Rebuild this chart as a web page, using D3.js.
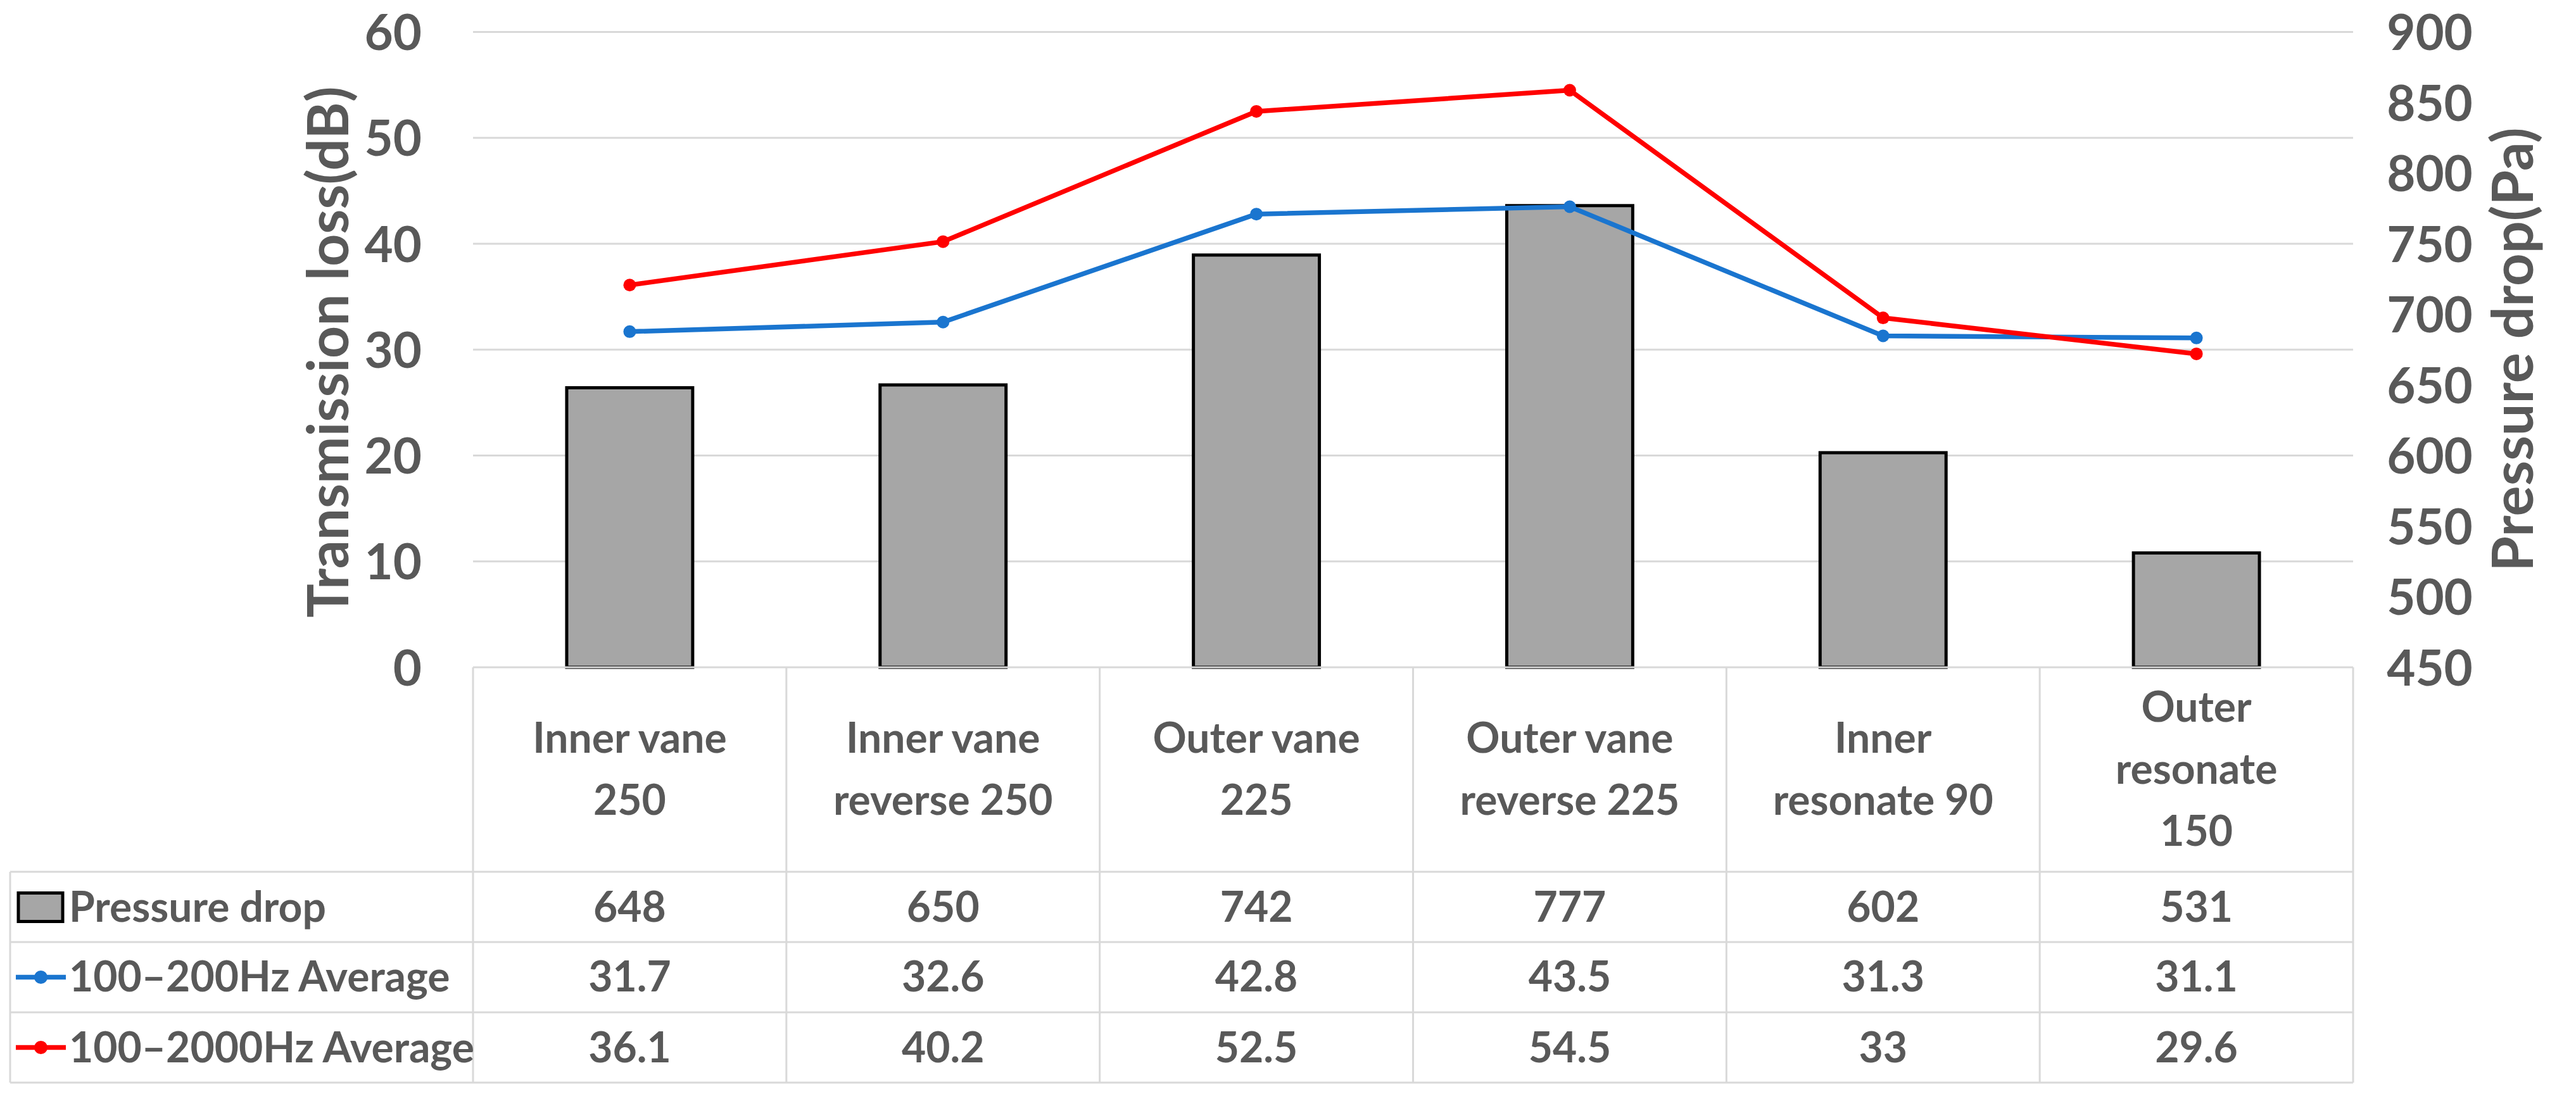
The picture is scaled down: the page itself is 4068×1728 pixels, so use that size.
<!DOCTYPE html>
<html>
<head>
<meta charset="utf-8">
<script src="https://cdn.jsdelivr.net/npm/d3@7"></script>
<style>
  html, body { margin: 0; padding: 0; background: #fff; }
  svg text { font-family: Lato, "Open Sans", sans-serif; font-weight: 700; fill: #595959; }
</style>
</head>
<body>
<svg id="chart" width="4068" height="1728"></svg>
<script>
// ---- data ----
const categories = ["Inner vane 250", "Inner vane reverse 250", "Outer vane 225", "Outer vane reverse 225", "Inner resonate 90", "Outer resonate 150"];
const categoryLines = [["Inner vane", "250"], ["Inner vane", "reverse 250"], ["Outer vane", "225"], ["Outer vane", "reverse 225"], ["Inner", "resonate 90"], ["Outer", "resonate", "150"]];
const pressureDrop = [648, 650, 742, 777, 602, 531];
const avg100_200 = [31.7, 32.6, 42.8, 43.5, 31.3, 31.1];
const avg100_2000 = [36.1, 40.2, 52.5, 54.5, 33, 29.6];
const seriesNames = ["Pressure drop", "100\u2013200Hz Average", "100\u20132000Hz Average"];
const leftTicks = [0, 10, 20, 30, 40, 50, 60];
const rightTicks = [450, 500, 550, 600, 650, 700, 750, 800, 850, 900];
const leftTitle = "Transmission loss(dB)";
const rightTitle = "Pressure drop(Pa)";

// ---- layout ----
const svg = d3.select("#chart");
const plotL = 747, plotR = 3716, plotT = 50.5, plotB = 1054;
const tableL = 16;
const rowLines = [1054, 1377, 1488, 1599, 1710];
const gridColor = "#d9d9d9";
const textColor = "#595959";
const blue = "#1a75cf", red = "#ff0000";

const x = d3.scaleBand().domain(categories).range([plotL, plotR]).paddingInner(0).paddingOuter(0);
const yL = d3.scaleLinear().domain([0, 60]).range([plotB, plotT]);
const yR = d3.scaleLinear().domain([450, 900]).range([plotB, plotT]);

// gridlines
svg.append("g").selectAll("line").data(leftTicks.filter(d => d > 0)).join("line")
  .attr("x1", plotL).attr("x2", plotR)
  .attr("y1", d => yL(d)).attr("y2", d => yL(d))
  .attr("stroke", gridColor).attr("stroke-width", 3);

// left axis tick labels
const leftAxis = d3.axisLeft(yL).tickValues(leftTicks).tickSize(0).tickPadding(0);
const gL = svg.append("g").attr("transform", `translate(666,0)`).call(leftAxis);
gL.select(".domain").remove();
gL.selectAll("text").attr("font-size", 78).attr("fill", textColor).attr("dy", "0.36em")
  .style("font-family", "Lato, sans-serif").style("font-weight", 700);

// right axis tick labels
const rightAxis = d3.axisRight(yR).tickValues(rightTicks).tickSize(0).tickPadding(0);
const gR = svg.append("g").attr("transform", `translate(3837,0)`).call(rightAxis);
gR.select(".domain").remove();
gR.selectAll("text").attr("font-size", 78).attr("fill", textColor).attr("dy", "0.36em")
  .attr("text-anchor", "middle")
  .style("font-family", "Lato, sans-serif").style("font-weight", 700);

// axis titles
svg.append("text").attr("transform", "translate(518,556) rotate(-90)")
  .attr("text-anchor", "middle").attr("dy", "0.36em").attr("font-size", 89).text(leftTitle);
svg.append("text").attr("transform", "translate(3968,552) rotate(-90)")
  .attr("text-anchor", "middle").attr("dy", "0.36em").attr("font-size", 90).text(rightTitle);

// bars
const barW = x.bandwidth() * 0.402;
svg.append("g").selectAll("rect").data(pressureDrop).join("rect")
  .attr("x", (d, i) => x(categories[i]) + x.bandwidth() / 2 - barW / 2)
  .attr("y", d => yR(d))
  .attr("width", barW)
  .attr("height", d => yR(450) - yR(d))
  .attr("fill", "#a6a6a6").attr("stroke", "#000").attr("stroke-width", 5);

// lines
const cx = (i) => x(categories[i]) + x.bandwidth() / 2;
const lineGen = d3.line().x((d, i) => cx(i)).y(d => yL(d));
[[avg100_200, blue], [avg100_2000, red]].forEach(([vals, col]) => {
  svg.append("path").datum(vals).attr("d", lineGen)
    .attr("fill", "none").attr("stroke", col).attr("stroke-width", 7.5).attr("stroke-linejoin", "round");
  svg.append("g").selectAll("circle").data(vals).join("circle")
    .attr("cx", (d, i) => cx(i)).attr("cy", d => yL(d)).attr("r", 10).attr("fill", col);
});

// ---- data table ----
const tg = svg.append("g");
tg.append("line").attr("x1", plotL).attr("x2", plotR).attr("y1", rowLines[0]).attr("y2", rowLines[0]);
rowLines.slice(1).forEach(y => tg.append("line").attr("x1", tableL).attr("x2", plotR).attr("y1", y).attr("y2", y));
const colEdges = categories.map(c => x(c)).concat([plotR]);
colEdges.forEach(xx => tg.append("line").attr("x1", xx).attr("x2", xx).attr("y1", rowLines[0]).attr("y2", rowLines[4]));
tg.append("line").attr("x1", tableL).attr("x2", tableL).attr("y1", rowLines[1]).attr("y2", rowLines[4]);
tg.selectAll("line").attr("stroke", gridColor).attr("stroke-width", 3);

// category labels
const catFont = 66, lineStep = 98, midBase = 1238;
categoryLines.forEach((lines, i) => {
  const t = svg.append("text").attr("text-anchor", "middle").attr("font-size", catFont);
  lines.forEach((ln, j) => {
    t.append("tspan").attr("x", cx(i)).attr("y", midBase + (j - (lines.length - 1) / 2) * lineStep).text(ln);
  });
});

// value rows
const rowVals = [pressureDrop, avg100_200, avg100_2000];
const baseOffsets = [23.5, 22, 23];
rowVals.forEach((vals, r) => {
  const yc = (rowLines[r + 1] + rowLines[r + 2]) / 2;
  svg.append("g").selectAll("text").data(vals).join("text")
    .attr("x", (d, i) => cx(i)).attr("y", yc + baseOffsets[r])
    .attr("text-anchor", "middle").attr("font-size", catFont).text(d => d);
  svg.append("text").attr("x", 109).attr("y", yc + baseOffsets[r]).attr("font-size", catFont).text(seriesNames[r]);
});

// legend keys
const r1c = (rowLines[1] + rowLines[2]) / 2;
svg.append("rect").attr("x", 29).attr("y", r1c - 22).attr("width", 70).attr("height", 45)
  .attr("fill", "#a6a6a6").attr("stroke", "#000").attr("stroke-width", 5);
[[blue, 1], [red, 2]].forEach(([col, r]) => {
  const yc = (rowLines[r + 1] + rowLines[r + 2]) / 2;
  svg.append("line").attr("x1", 25).attr("x2", 104).attr("y1", yc).attr("y2", yc)
    .attr("stroke", col).attr("stroke-width", 7.5);
  svg.append("circle").attr("cx", 64.5).attr("cy", yc).attr("r", 10.5).attr("fill", col);
});
</script>
</body>
</html>
